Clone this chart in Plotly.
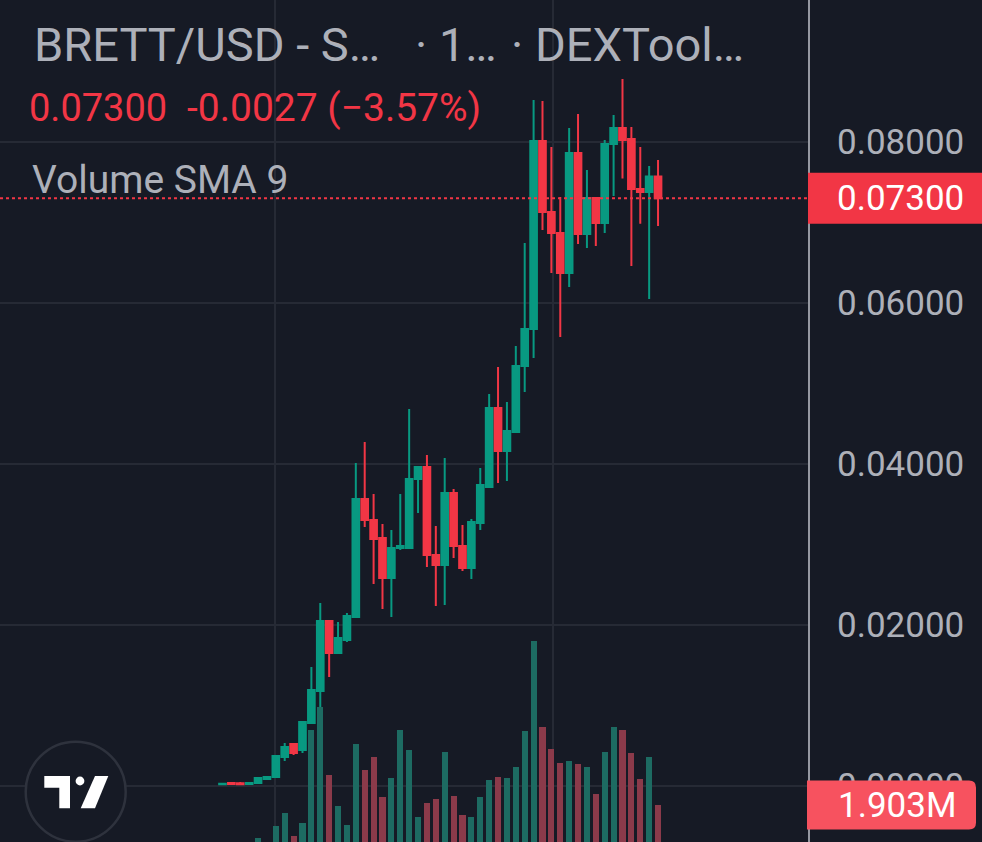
import plotly.graph_objects as go

# ---------------- data ----------------
candle_index = list(range(50))
open_ = [0.00022, 0.00037, 0.00035, 0.00025, 0.00037, 0.00087, 0.00112, 0.00360, 0.00522, 0.00447,
         0.00783, 0.01180, 0.02050, 0.01652, 0.01814, 0.02099, 0.03565, 0.03304, 0.03081, 0.02584,
         0.02957, 0.02957, 0.03814, 0.03963, 0.02870, 0.02745, 0.03640, 0.02981, 0.02708, 0.03267,
         0.03714, 0.04696, 0.04161, 0.04398, 0.05217, 0.05677, 0.08012, 0.07130, 0.06870, 0.06373,
         0.07863, 0.06857, 0.07304, 0.06994, 0.07975, 0.08174, 0.08037, 0.07416, 0.07379, 0.07570]
high = [0.00030, 0.00050, 0.00050, 0.00050, 0.00105, 0.00120, 0.00373, 0.00534, 0.00534, 0.00795,
        0.01478, 0.02273, 0.02050, 0.02037, 0.02149, 0.04012, 0.04273, 0.03627, 0.03255, 0.03180,
        0.03627, 0.04683, 0.03963, 0.04112, 0.03230, 0.04075, 0.03690, 0.03242, 0.03317, 0.03950,
        0.04870, 0.05205, 0.04770, 0.05466, 0.06745, 0.08522, 0.08509, 0.07938, 0.07317, 0.08174,
        0.08348, 0.07652, 0.07317, 0.08025, 0.08335, 0.08783, 0.08186, 0.07938, 0.07702, 0.07776]
low = [0.00018, 0.00012, 0.00010, 0.00022, 0.00030, 0.00080, 0.00112, 0.00311, 0.00385, 0.00410,
       0.00783, 0.00981, 0.01354, 0.01652, 0.01789, 0.02099, 0.03217, 0.02509, 0.02199, 0.02099,
       0.02932, 0.02957, 0.03391, 0.02720, 0.02236, 0.02248, 0.02832, 0.02671, 0.02571, 0.03180,
       0.03702, 0.03764, 0.03789, 0.04385, 0.04894, 0.05317, 0.06907, 0.06373, 0.05578, 0.06199,
       0.06733, 0.06683, 0.06708, 0.06870, 0.07329, 0.07547, 0.06460, 0.06983, 0.06050, 0.06957]
close = [0.00028, 0.00025, 0.00022, 0.00037, 0.00099, 0.00112, 0.00373, 0.00484, 0.00410, 0.00795,
         0.01193, 0.02050, 0.01652, 0.01839, 0.02112, 0.03565, 0.03304, 0.03068, 0.02584, 0.02957,
         0.02981, 0.03814, 0.03963, 0.02870, 0.02745, 0.03640, 0.02981, 0.02708, 0.03280, 0.03739,
         0.04696, 0.04161, 0.04410, 0.05217, 0.05677, 0.08012, 0.07130, 0.06870, 0.06373, 0.07863,
         0.06857, 0.07304, 0.06994, 0.07975, 0.08174, 0.08025, 0.07416, 0.07379, 0.07570, 0.07300]
volume_m = [0.05, 0.08, 0.06, 0.10, 1.066, 0.60, 1.371, 1.70, 1.117, 1.447,
            3.807, 4.391, 2.665, 1.878, 1.396, 3.452, 2.792, 3.122, 2.107, 2.589,
            3.807, 3.299, 1.599, 1.954, 2.056, 3.249, 2.132, 1.650, 1.599, 2.107,
            2.538, 2.614, 2.589, 2.868, 3.782, 6.066, 3.883, 3.325, 2.970, 3.020,
            2.944, 2.868, 2.183, 3.249, 3.883, 3.807, 3.223, 2.563, 3.122, 1.903]
price_ticks = [0.0, 0.02, 0.04, 0.06, 0.08]
time_gridlines = [5.9, 37.2]
title_parts = ["BRETT/USD - S…", "· 1…", "· DEXTool…"]
indicator_name = "Volume SMA 9"

# ---------------- style / layout constants ----------------
FIG_W, FIG_H = 982, 842
MARGIN_R = 174
W_PLOT, H_PLOT = FIG_W - MARGIN_R, FIG_H
X_RANGE = [-25.03, 65.87]
PRICE_RANGE = [-0.006957, 0.09764]
VOLUME_RANGE = [0.9645, 22.335]

BG = "#161a25"
GRID = "#262a35"
GREEN = "#089981"
RED = "#f23645"
VOL_GREEN = "#1d6b62"
VOL_RED = "#8b3a4a"
TXT = "#adb0b9"
FONT = "Roboto"


def px(x):
    return x / W_PLOT


def py(y):
    return 1 - y / H_PLOT


def price_py(v):
    return (PRICE_RANGE[1] - v) / (PRICE_RANGE[1] - PRICE_RANGE[0]) * H_PLOT


def vol_py(v):
    return (VOLUME_RANGE[1] - v) / (VOLUME_RANGE[1] - VOLUME_RANGE[0]) * H_PLOT


vol_colors = [VOL_GREEN if c >= o else VOL_RED for o, c in zip(open_, close)]

fig = go.Figure()
fig.add_trace(go.Bar(
    x=candle_index, y=volume_m, marker=dict(color=vol_colors, line=dict(width=0)),
    width=0.68, yaxis="y", xaxis="x", showlegend=False, hoverinfo="skip"))
fig.add_trace(go.Candlestick(
    x=candle_index, open=open_, high=high, low=low, close=close,
    increasing=dict(line=dict(color=GREEN, width=2), fillcolor=GREEN),
    decreasing=dict(line=dict(color=RED, width=2), fillcolor=RED),
    whiskerwidth=0, yaxis="y2", xaxis="x", showlegend=False))

last_close = close[-1]
prev_close = close[-2]
chg = last_close - prev_close
pct = chg / prev_close * 100

shapes = []
annotations = []

# current price dotted line
shapes.append(dict(type="line", xref="paper", yref="y2", x0=0, x1=1, y0=last_close, y1=last_close,
                   line=dict(color=RED, width=2, dash="dot"), layer="above"))

# price label box
cy = price_py(last_close)
shapes.append(dict(type="rect", xref="paper", yref="paper", x0=1, x1=px(FIG_W),
                   y0=py(cy + 25.5), y1=py(cy - 25.5), fillcolor=RED, line=dict(width=0), layer="above"))
annotations.append(dict(xref="paper", yref="y2", x=px(836), y=last_close, xanchor="left", yanchor="middle",
                        text=f"{last_close:.5f}", showarrow=False, borderpad=0,
                        font=dict(family=FONT, size=35, color="white")))

# volume label box (rounded right corners)
vy = vol_py(volume_m[-1])
x0, x1, y0, y1, r = 807, 976, vy - 24.5, vy + 24.5, 7
path = (f"M {px(x0)},{py(y0)} L {px(x1 - r)},{py(y0)} Q {px(x1)},{py(y0)} {px(x1)},{py(y0 + r)} "
        f"L {px(x1)},{py(y1 - r)} Q {px(x1)},{py(y1)} {px(x1 - r)},{py(y1)} L {px(x0)},{py(y1)} Z")
shapes.append(dict(type="path", xref="paper", yref="paper", path=path, fillcolor="#f7525f",
                   line=dict(width=0), layer="above"))
annotations.append(dict(xref="paper", yref="paper", x=px(837), y=py(vy), xanchor="left", yanchor="middle",
                        text=f"{volume_m[-1]:.3f}M", showarrow=False, borderpad=0,
                        font=dict(family=FONT, size=35, color="white")))

# TradingView logo
cx_, cy_, R = 75.7, 791.7, 50
shapes.append(dict(type="circle", xref="paper", yref="paper", x0=px(cx_ - R), x1=px(cx_ + R),
                   y0=py(cy_ + R), y1=py(cy_ - R), fillcolor=BG, line=dict(color="#2e323d", width=2.5),
                   layer="above"))
pts = [(44.3, 776), (70, 776), (70, 808.3), (59.3, 808.3), (59.3, 787.7), (44.3, 787.7)]
shapes.append(dict(type="path", xref="paper", yref="paper",
                   path="M " + " L ".join(f"{px(a)},{py(b)}" for a, b in pts) + " Z",
                   fillcolor="white", line=dict(width=0), layer="above"))
pts = [(95, 776), (108.3, 776), (95, 808.3), (80.7, 808.3)]
shapes.append(dict(type="path", xref="paper", yref="paper",
                   path="M " + " L ".join(f"{px(a)},{py(b)}" for a, b in pts) + " Z",
                   fillcolor="white", line=dict(width=0), layer="above"))
shapes.append(dict(type="circle", xref="paper", yref="paper", x0=px(75.6), x1=px(84.4),
                   y0=py(785.4), y1=py(776.6), fillcolor="white", line=dict(width=0), layer="above"))

# header texts
for text, xpos in zip(title_parts, [33, 414, 510]):
    annotations.append(dict(xref="paper", yref="paper", x=px(xpos), y=py(45), xanchor="left", yanchor="middle",
                            text=text, showarrow=False, borderpad=0,
                            font=dict(family=FONT, size=47, color=TXT)))
annotations.append(dict(xref="paper", yref="paper", x=px(28), y=py(108), xanchor="left", yanchor="middle",
                        text=f"{last_close:.5f}", showarrow=False, borderpad=0,
                        font=dict(family=FONT, size=38, color=RED)))
annotations.append(dict(xref="paper", yref="paper", x=px(186), y=py(108), xanchor="left", yanchor="middle",
                        text=f"{chg:.4f} (−{abs(pct):.2f}%)", showarrow=False, borderpad=0,
                        font=dict(family=FONT, size=39, color=RED)))
annotations.append(dict(xref="paper", yref="paper", x=px(31), y=py(180), xanchor="left", yanchor="middle",
                        text=indicator_name, showarrow=False, borderpad=0,
                        font=dict(family=FONT, size=39, color=TXT)))

fig.update_layout(
    width=FIG_W, height=FIG_H,
    margin=dict(l=0, r=MARGIN_R, t=0, b=0),
    paper_bgcolor=BG, plot_bgcolor=BG,
    boxgap=0.25, boxgroupgap=0,
    bargap=0,
    showlegend=False,
    hovermode=False,
    font=dict(family=FONT, color=TXT),
    xaxis=dict(range=X_RANGE, showticklabels=False, ticks="", tickmode="array", tickvals=time_gridlines,
               showgrid=True, gridcolor=GRID, gridwidth=2, zeroline=False, showline=False,
               rangeslider=dict(visible=False), fixedrange=True),
    yaxis=dict(range=VOLUME_RANGE, visible=False, showgrid=False, zeroline=False, fixedrange=True),
    yaxis2=dict(range=PRICE_RANGE, overlaying="y", side="right", tickmode="array", tickvals=price_ticks,
                tickformat=".5f", showgrid=True, gridcolor=GRID, gridwidth=2, zeroline=False,
                showline=True, linecolor="#9598a1", linewidth=2, ticks="", ticklabelstandoff=20,
                tickfont=dict(family=FONT, size=35, color=TXT), fixedrange=True),
    shapes=shapes,
    annotations=annotations,
)

fig.write_html("out.html", config={"displayModeBar": False},
               post_script="document.body.style.margin='0';document.body.style.background='#161a25';")
